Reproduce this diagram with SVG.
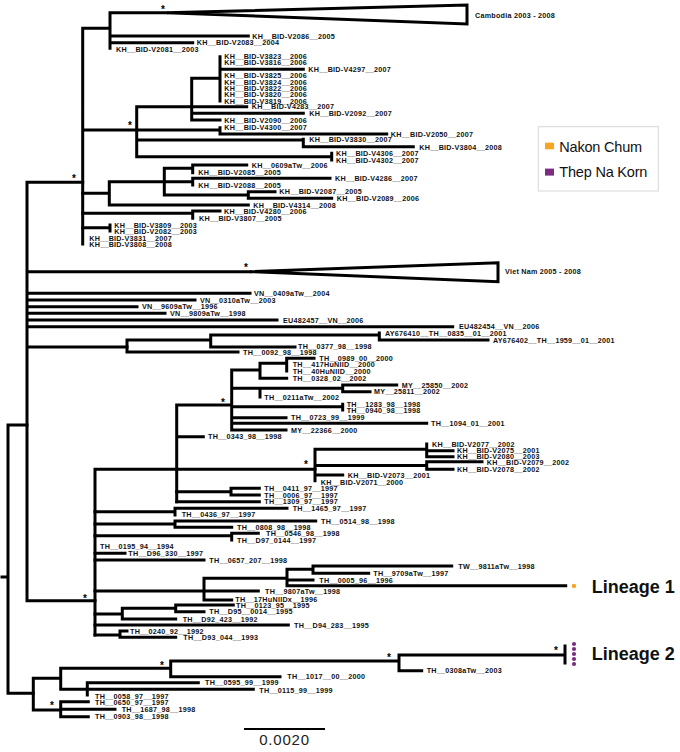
<svg xmlns="http://www.w3.org/2000/svg" width="680" height="752" viewBox="0 0 680 752">
<style>
.b{fill:none;stroke:#000;stroke-width:3;stroke-linecap:square;stroke-linejoin:miter}
.t{fill:#fff;stroke:#000;stroke-width:3;stroke-linejoin:miter}
.l{font-family:"Liberation Sans",Arial,sans-serif;font-weight:bold;font-size:7.2px;letter-spacing:0.25px;fill:#111}
.s{font-family:"Liberation Sans",Arial,sans-serif;font-weight:bold;font-size:10px;fill:#000;text-anchor:middle}
.lg{font-family:"Liberation Sans",Arial,sans-serif;font-size:14.5px;letter-spacing:-0.2px;fill:#111}
.ln{font-family:"Liberation Sans",Arial,sans-serif;font-weight:bold;font-size:18px;fill:#111}
</style>
<rect width="680" height="752" fill="#fff"/>
<g id="connectors">
<path class="b" d="M2,577H8M8,425V693.3M8,425H27M8,693.3H33.3"/>
<path class="b" d="M27,182.3V600.7M27,182.3H82.7M27,271.7H250M27,293.3H250M27,300H195M27,306.7H137M27,313.3H165M27,320H277M27,326.7H452.7M27,347H127M27,600.7H95"/>
<path class="b" d="M82.7,28.3V244M82.7,28.3H110M110,12.7V48.3M110,12.7H167M110,36H248.3M110,42.7H192.7M82.7,130H220M136.7,106.7V156.7M136.7,106.7H246.7M191.7,78.3V120M191.7,78.3H220M220,56.7V101M220,69.3H303.3M191.7,113.3H303.3M191.7,120H220M220,127.7V134M220,134H386.7M136.7,140H303.3M303.3,139.3V146.7M303.3,146.7H413.3M136.7,156.7H331.7M331.7,153.3V160"/>
<path class="b" d="M82.7,193.3H109.3M109.3,181.7V205M109.3,181.7H164.3M164.3,168.3V195M164.3,168.3H192.7M192.7,165V172.7M192.7,165H246.7M164.3,181.7H192.7M192.7,178.3V185M192.7,178.3H330M164.3,195H248.3M248.3,191.7V198.3M248.3,191.7H275M248.3,198.3H331.7M109.3,205H248.3M82.7,213.3H192.7M192.7,211V218.3M192.7,211H220M82.7,227.7H110M110,225V231"/>
<path class="b" d="M127,340V352M127,340H210.7M210.7,335V347M210.7,335H379.3M379.3,333V340M379.3,340H488M210.7,347H295M127,352H238"/>
<path class="b" d="M95,469.3V635M95,469.3H315M176.7,405V501.7M176.7,405H231.7M231.7,370V430M231.7,370H260M260,363.3V378.3M260,363.3H286.7M286.7,358.3V371M286.7,358.3H314M260,378.3H286.7M231.7,388.3H342.7M260,388.3V397M342.7,385V391.7M342.7,385H396.7M342.7,391.7H370M231.7,406.7H342.7M342.7,404.3V410M231.7,417.7H286M231.7,423.3H426.7M231.7,430H286M176.7,436.7H203.3"/>
<path class="b" d="M315,449.3V480.7M315,449.3H426.7M426.7,444V456.7M426.7,450.7H453M426.7,456.7H453M315,465.5H426.7M426.7,461.7V469.3M426.7,461.7H482M426.7,469.3H453M315,475H342.7M176.7,491.7H231M231,488.3V495M231,488.3H259.3M231,495H259.3M176.7,501.7H259.3"/>
<path class="b" d="M95,511.7H175M175,508.3V515M175,508.3H287M95,524H175M175,521V527.3M175,521H315.7M175,527.3H231.7M95,535.7H231.7M231.7,533.3V540M231.7,533.3H258.3M95,553.3H125M95,560H204"/>
<path class="b" d="M95,591H258.3M204,578.3V600M204,578.3H287M287,569.3V585.7M287,569.3H313M313,566V573.3M313,566H451.7M313,573.3H368.7M287,580H313M287,585.7H565.7M204,600H231.7"/>
<path class="b" d="M95,614H122.3M122.3,608.3V619M122.3,608.3H175.7M175.7,605V611.7M175.7,605H233.3M175.7,611.7H204M122.3,619H175.7M95,625H288.3M95,635H120M120,631V637.3M120,631H127M120,637.3H175.7"/>
<path class="b" d="M33.3,678.3V710M33.3,678.3H60.7M60.7,668.3V689.3M60.7,668.3H170.7M170.7,661V676.7M170.7,661H399M399,655V670.7M399,655H565M565,646V663M399,670.7H421.7M170.7,676.7H280M60.7,689.3H253.3M87.3,682.7V695M87.3,682.7H198.3M33.3,710H60.7M60.7,701.7V716.7M60.7,701.7H88.3M60.7,709.3H115M60.7,716.7H88.3"/>
<polygon class="t" points="167,12.7 467,5 467,24"/>
<polygon class="t" points="250,271.7 498,262.7 498,281.7"/>
<path d="M244,729H325" stroke="#000" stroke-width="2"/>
</g>
<g id="support">
<text class="s" x="163" y="12.5">*</text>
<text class="s" x="74" y="182">*</text>
<text class="s" x="130" y="129">*</text>
<text class="s" x="246" y="271">*</text>
<text class="s" x="223" y="406">*</text>
<text class="s" x="306" y="468">*</text>
<text class="s" x="85" y="602">*</text>
<text class="s" x="162" y="668.5">*</text>
<text class="s" x="389" y="661">*</text>
<text class="s" x="556" y="653.5">*</text>
<text class="s" x="52" y="709">*</text>
</g>
<g id="clade-cambodia"><text class="l" x="475" y="18">Cambodia 2003 - 2008</text></g>
<g id="clade-vietnam"><text class="l" x="505" y="274.4">Viet Nam 2005 - 2008</text></g>
<g id="leaves">
<g id="n1"><text class="l" x="252.3" y="38.7">KH__BID-V2086__2005</text></g>
<g id="n2"><text class="l" x="196.7" y="45.4">KH__BID-V2083__2004</text></g>
<g id="n3"><text class="l" x="116" y="51.7">KH__BID-V2081__2003</text></g>
<g id="n4"><text class="l" x="224.3" y="59">KH__BID-V3823__2006</text></g>
<g id="n5"><text class="l" x="224.3" y="65.4">KH__BID-V3816__2006</text></g>
<g id="n6"><text class="l" x="308.3" y="72">KH__BID-V4297__2007</text></g>
<g id="n7"><text class="l" x="224.3" y="78">KH__BID-V3825__2006</text></g>
<g id="n8"><text class="l" x="224.3" y="84.5">KH__BID-V3824__2006</text></g>
<g id="n9"><text class="l" x="224.3" y="90.9">KH__BID-V3822__2006</text></g>
<g id="n10"><text class="l" x="224.3" y="97.3">KH__BID-V3820__2006</text></g>
<g id="n11"><text class="l" x="224.3" y="103.7">KH__BID-V3819__2006</text></g>
<g id="n12"><text class="l" x="251.7" y="109.4">KH__BID-V4283__2007</text></g>
<g id="n13"><text class="l" x="309.3" y="116">KH__BID-V2092__2007</text></g>
<g id="n14"><text class="l" x="224.3" y="122.7">KH__BID-V2090__2006</text></g>
<g id="n15"><text class="l" x="224.3" y="130.4">KH__BID-V4300__2007</text></g>
<g id="n16"><text class="l" x="390.7" y="136.7">KH__BID-V2050__2007</text></g>
<g id="n17"><text class="l" x="309.3" y="142.2">KH__BID-V3830__2007</text></g>
<g id="n18"><text class="l" x="419.3" y="149.7">KH__BID-V3804__2008</text></g>
<g id="n19"><text class="l" x="336" y="156">KH__BID-V4306__2007</text></g>
<g id="n20"><text class="l" x="336" y="162.7">KH__BID-V4302__2007</text></g>
<g id="n21"><text class="l" x="251.7" y="167.7">KH__0609aTw__2006</text></g>
<g id="n22"><text class="l" x="198.3" y="174.7">KH__BID-V2085__2005</text></g>
<g id="n23"><text class="l" x="335" y="181">KH__BID-V4286__2007</text></g>
<g id="n24"><text class="l" x="198.3" y="187.7">KH__BID-V2088__2005</text></g>
<g id="n25"><text class="l" x="279.3" y="194.4">KH__BID-V2087__2005</text></g>
<g id="n26"><text class="l" x="336.7" y="201">KH__BID-V2089__2006</text></g>
<g id="n27"><text class="l" x="253.3" y="207.7">KH__BID-V4314__2008</text></g>
<g id="n28"><text class="l" x="224" y="213.7">KH__BID-V4280__2006</text></g>
<g id="n29"><text class="l" x="199" y="220.7">KH__BID-V3807__2005</text></g>
<g id="n30"><text class="l" x="114.3" y="227.7">KH__BID-V3809__2003</text></g>
<g id="n31"><text class="l" x="114.3" y="234">KH__BID-V2082__2003</text></g>
<g id="n32"><text class="l" x="89.3" y="241">KH__BID-V3831__2007</text></g>
<g id="n33"><text class="l" x="89.3" y="247.4">KH__BID-V3808__2008</text></g>
<g id="n34"><text class="l" x="254" y="296">VN__0409aTw__2004</text></g>
<g id="n35"><text class="l" x="200" y="302.7">VN__0310aTw__2003</text></g>
<g id="n36"><text class="l" x="142" y="309.4">VN__9609aTw__1996</text></g>
<g id="n37"><text class="l" x="170" y="316">VN__9809aTw__1998</text></g>
<g id="n38"><text class="l" x="283" y="322.7">EU482457__VN__2006</text></g>
<g id="n39"><text class="l" x="459" y="329.4">EU482454__VN__2006</text></g>
<g id="n40"><text class="l" x="385" y="335.7">AY676410__TH__0835__01__2001</text></g>
<g id="n41"><text class="l" x="493" y="342.7">AY676402__TH__1959__01__2001</text></g>
<g id="n42"><text class="l" x="298" y="349.4">TH__0377_98__1998</text></g>
<g id="n43"><text class="l" x="243" y="354.7">TH__0092_98__1998</text></g>
<g id="n44"><text class="l" x="319.3" y="361">TH__0989_00__2000</text></g>
<g id="n45"><text class="l" x="292.7" y="367.4">TH__417HuNIID__2000</text></g>
<g id="n46"><text class="l" x="292.7" y="373.7">TH__40HuNIID__2000</text></g>
<g id="n47"><text class="l" x="292.7" y="381">TH__0328_02__2002</text></g>
<g id="n48"><text class="l" x="401.7" y="387.7">MY__25850__2002</text></g>
<g id="n49"><text class="l" x="374" y="394.4">MY__25811__2002</text></g>
<g id="n50"><text class="l" x="264.3" y="400.4">TH__0211aTw__2002</text></g>
<g id="n51"><text class="l" x="346.7" y="407">TH__1283_98__1998</text></g>
<g id="n52"><text class="l" x="346.7" y="413.2">TH__0940_98__1998</text></g>
<g id="n53"><text class="l" x="291" y="420.4">TH__0723_99__1999</text></g>
<g id="n54"><text class="l" x="431" y="426">TH__1094_01__2001</text></g>
<g id="n55"><text class="l" x="291" y="432.7">MY__22366__2000</text></g>
<g id="n56"><text class="l" x="208" y="439.4">TH__0343_98__1998</text></g>
<g id="n57"><text class="l" x="432" y="446.7">KH__BID-V2077__2002</text></g>
<g id="n58"><text class="l" x="457" y="453.4">KH__BID-V2075__2001</text></g>
<g id="n59"><text class="l" x="457" y="459.4">KH__BID-V2080__2003</text></g>
<g id="n60"><text class="l" x="486.7" y="464.7">KH__BID-V2079__2002</text></g>
<g id="n61"><text class="l" x="457" y="472">KH__BID-V2078__2002</text></g>
<g id="n62"><text class="l" x="347.7" y="477.7">KH__BID-V2073__2001</text></g>
<g id="n63"><text class="l" x="320.7" y="485">KH__BID-V2071__2000</text></g>
<g id="n64"><text class="l" x="264.3" y="491">TH__0411_97__1997</text></g>
<g id="n65"><text class="l" x="264.3" y="497.7">TH__0006_97__1997</text></g>
<g id="n66"><text class="l" x="264.3" y="504.4">TH__1309_97__1997</text></g>
<g id="n67"><text class="l" x="292.7" y="511">TH__1465_97__1997</text></g>
<g id="n68"><text class="l" x="181.7" y="517.4">TH__0436_97__1997</text></g>
<g id="n69"><text class="l" x="321" y="523.7">TH__0514_98__1998</text></g>
<g id="n70"><text class="l" x="237" y="530">TH__0808_98__1998</text></g>
<g id="n71"><text class="l" x="266" y="536.4">TH__0546_98__1998</text></g>
<g id="n72"><text class="l" x="237" y="542.7">TH__D97_0144__1997</text></g>
<g id="n73"><text class="l" x="100" y="549.4">TH__0195_94__1994</text></g>
<g id="n74"><text class="l" x="128.3" y="556">TH__D96_330__1997</text></g>
<g id="n75"><text class="l" x="209.3" y="562.7">TH__0657_207__1998</text></g>
<g id="n76"><text class="l" x="458.3" y="568.7">TW__9811aTw__1998</text></g>
<g id="n77"><text class="l" x="373.3" y="576">TH__9709aTw__1997</text></g>
<g id="n78"><text class="l" x="319.3" y="582.7">TH__0005_96__1996</text></g>
<g id="n79"><text class="l" x="265" y="594.4">TH__9807aTw__1998</text></g>
<g id="n80"><text class="l" x="235.3" y="602">TH__17HuNIIDx__1996</text></g>
<g id="n81"><text class="l" x="236" y="607.7">TH__0123_95__1995</text></g>
<g id="n82"><text class="l" x="209.3" y="614.4">TH__D95__0014__1995</text></g>
<g id="n83"><text class="l" x="182.7" y="621.7">TH__D92_423__1992</text></g>
<g id="n84"><text class="l" x="294" y="627.7">TH__D94_283__1995</text></g>
<g id="n85"><text class="l" x="130" y="633.7">TH__0240_92__1992</text></g>
<g id="n86"><text class="l" x="183.3" y="640">TH__D93_044__1993</text></g>
<g id="n87"><text class="l" x="426.7" y="673.4">TH__0308aTw__2003</text></g>
<g id="n88"><text class="l" x="287.3" y="679.4">TH__1017__00__2000</text></g>
<g id="n89"><text class="l" x="205" y="685.4">TH__0595_99__1999</text></g>
<g id="n90"><text class="l" x="259.3" y="693.4">TH__0115_99__1999</text></g>
<g id="n91"><text class="l" x="95" y="699.4">TH__0058_97__1997</text></g>
<g id="n92"><text class="l" x="95" y="705">TH__0650_97__1997</text></g>
<g id="n93"><text class="l" x="121.7" y="712">TH__1687_98__1998</text></g>
<g id="n94"><text class="l" x="95" y="719.4">TH__0903_98__1998</text></g>
</g>
<g id="lineage1">
<circle cx="574" cy="586" r="2.2" fill="#F6A623"/>
<text class="ln" x="591.7" y="592.5">Lineage 1</text>
</g>
<g id="lineage2">
<g fill="#7B2D82"><circle cx="574" cy="644" r="2.1"/><circle cx="574" cy="649" r="2.1"/><circle cx="574" cy="654" r="2.1"/><circle cx="574" cy="659" r="2.1"/><circle cx="574" cy="664" r="2.1"/></g>
<text class="ln" x="591.7" y="660">Lineage 2</text>
</g>
<g id="scale"><text x="284.5" y="745" font-family="Liberation Sans,Arial,sans-serif" font-size="15" letter-spacing="0.8" text-anchor="middle" fill="#222">0.0020</text></g>
<g id="legend">
<rect x="538.3" y="126.7" width="120" height="64.3" fill="#fff" stroke="#d8d8d8" stroke-width="1"/>
<rect x="545" y="142.7" width="9" height="6.6" fill="#F6A623"/>
<text class="lg" x="559.3" y="151.7">Nakon Chum</text>
<rect x="545" y="168.6" width="9" height="7" fill="#7B2D82"/>
<text class="lg" x="559.3" y="176.7">Thep Na Korn</text>
</g>
</svg>
